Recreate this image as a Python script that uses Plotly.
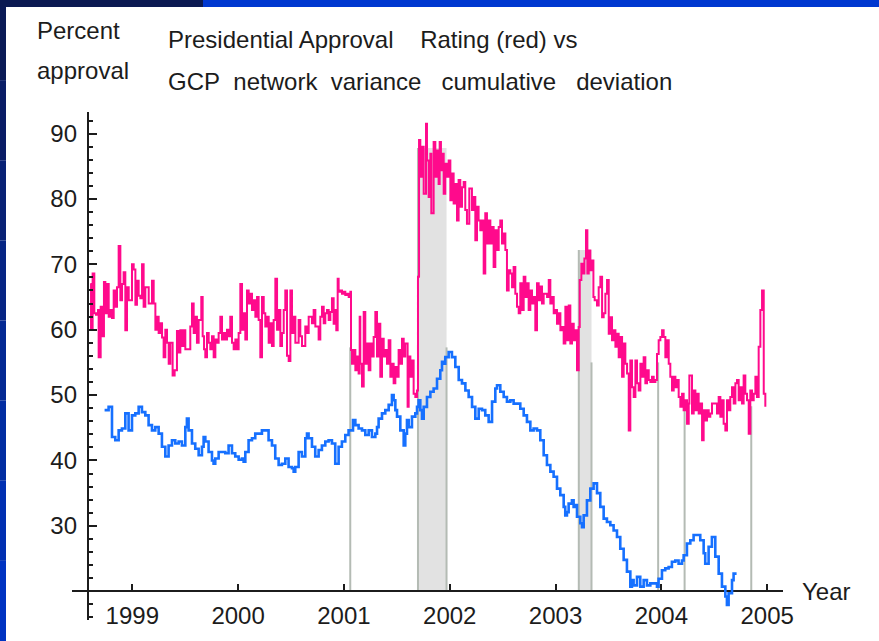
import plotly.graph_objects as go

# presidential approval (red), decimal year / percent
red_t = [
    1998.603, 1998.610, 1998.625, 1998.641, 1998.657, 1998.676, 1998.682, 1998.701, 1998.720, 1998.732,
    1998.745, 1998.761, 1998.777, 1998.792, 1998.808, 1998.824, 1998.840, 1998.855, 1998.871, 1998.887,
    1998.903, 1998.918, 1998.934, 1998.950, 1998.966, 1998.997, 1999.013, 1999.029, 1999.044, 1999.060,
    1999.076, 1999.092, 1999.107, 1999.123, 1999.155, 1999.186, 1999.202, 1999.218, 1999.233, 1999.249,
    1999.265, 1999.281, 1999.296, 1999.312, 1999.328, 1999.344, 1999.359, 1999.381, 1999.400, 1999.422,
    1999.438, 1999.454, 1999.470, 1999.485, 1999.501, 1999.533, 1999.548, 1999.564, 1999.580, 1999.596,
    1999.611, 1999.627, 1999.652, 1999.665, 1999.678, 1999.690, 1999.706, 1999.722, 1999.737, 1999.753,
    1999.769, 1999.785, 1999.800, 1999.816, 1999.832, 1999.848, 1999.863, 1999.879, 1999.895, 1999.911,
    1999.926, 1999.942, 1999.958, 1999.974, 1999.990, 2000.005, 2000.021, 2000.037, 2000.053, 2000.068,
    2000.084, 2000.100, 2000.116, 2000.131, 2000.147, 2000.163, 2000.179, 2000.194, 2000.210, 2000.226,
    2000.242, 2000.257, 2000.273, 2000.289, 2000.305, 2000.320, 2000.336, 2000.352, 2000.368, 2000.383,
    2000.399, 2000.415, 2000.431, 2000.446, 2000.462, 2000.478, 2000.494, 2000.509, 2000.525, 2000.541,
    2000.572, 2000.588, 2000.604, 2000.635, 2000.651, 2000.667, 2000.698, 2000.714, 2000.730, 2000.761,
    2000.777, 2000.793, 2000.809, 2000.824, 2000.840, 2000.856, 2000.872, 2000.887, 2000.903, 2000.919,
    2000.928, 2000.941, 2000.950, 2000.966, 2000.982, 2000.998, 2001.013, 2001.029, 2001.045, 2001.061,
    2001.067, 2001.076, 2001.092, 2001.108, 2001.124, 2001.139, 2001.149, 2001.155, 2001.171, 2001.187,
    2001.202, 2001.218, 2001.234, 2001.250, 2001.265, 2001.281, 2001.297, 2001.313, 2001.328, 2001.344,
    2001.360, 2001.376, 2001.391, 2001.407, 2001.423, 2001.439, 2001.454, 2001.470, 2001.486, 2001.502,
    2001.517, 2001.533, 2001.549, 2001.565, 2001.580, 2001.602, 2001.612, 2001.628, 2001.643, 2001.659,
    2001.675, 2001.691, 2001.700, 2001.710, 2001.722, 2001.738, 2001.754, 2001.776, 2001.785, 2001.801,
    2001.817, 2001.826, 2001.848, 2001.864, 2001.880, 2001.895, 2001.905, 2001.917, 2001.930, 2001.943,
    2001.958, 2001.974, 2001.990, 2002.006, 2002.021, 2002.037, 2002.053, 2002.069, 2002.084, 2002.100,
    2002.116, 2002.132, 2002.147, 2002.163, 2002.185, 2002.210, 2002.226, 2002.242, 2002.258, 2002.273,
    2002.289, 2002.305, 2002.321, 2002.336, 2002.352, 2002.368, 2002.384, 2002.400, 2002.415, 2002.431,
    2002.447, 2002.463, 2002.478, 2002.494, 2002.510, 2002.526, 2002.541, 2002.557, 2002.573, 2002.589,
    2002.604, 2002.620, 2002.636, 2002.652, 2002.667, 2002.683, 2002.699, 2002.715, 2002.730, 2002.746,
    2002.762, 2002.778, 2002.793, 2002.809, 2002.825, 2002.841, 2002.856, 2002.872, 2002.888, 2002.920,
    2002.936, 2002.951, 2002.967, 2002.983, 2002.999, 2003.014, 2003.030, 2003.046, 2003.062, 2003.077,
    2003.093, 2003.109, 2003.125, 2003.140, 2003.156, 2003.172, 2003.188, 2003.203, 2003.219, 2003.229,
    2003.244, 2003.257, 2003.273, 2003.288, 2003.301, 2003.314, 2003.329, 2003.345, 2003.358, 2003.370,
    2003.392, 2003.408, 2003.424, 2003.440, 2003.455, 2003.471, 2003.487, 2003.503, 2003.518, 2003.534,
    2003.550, 2003.566, 2003.581, 2003.597, 2003.613, 2003.629, 2003.644, 2003.660, 2003.676, 2003.692,
    2003.707, 2003.723, 2003.739, 2003.755, 2003.770, 2003.786, 2003.802, 2003.818, 2003.833, 2003.849,
    2003.865, 2003.881, 2003.896, 2003.912, 2003.928, 2003.944, 2003.959, 2003.975, 2003.991, 2004.007,
    2004.022, 2004.038, 2004.054, 2004.070, 2004.085, 2004.101, 2004.117, 2004.133, 2004.148, 2004.164,
    2004.180, 2004.196, 2004.211, 2004.227, 2004.243, 2004.259, 2004.265, 2004.290, 2004.306, 2004.322,
    2004.337, 2004.353, 2004.369, 2004.385, 2004.400, 2004.416, 2004.432, 2004.448, 2004.463, 2004.479,
    2004.511, 2004.526, 2004.542, 2004.558, 2004.574, 2004.589, 2004.605, 2004.621, 2004.637, 2004.652,
    2004.668, 2004.684, 2004.700, 2004.715, 2004.731, 2004.747, 2004.763, 2004.778, 2004.794, 2004.810,
    2004.826, 2004.841, 2004.857, 2004.873, 2004.889, 2004.904, 2004.920, 2004.936, 2004.952, 2004.968,
    2004.983,
]
red_v = [
    67.0, 60.0, 68.6, 62.5, 62.3, 63.0, 55.8, 63.5, 59.0, 67.3,
    62.5, 67.0, 62.0, 63.0, 61.8, 66.0, 63.5, 66.5, 72.8, 64.5,
    67.0, 68.8, 59.9, 66.5, 64.5, 70.0, 69.2, 63.8, 67.5, 65.2,
    64.8, 70.0, 63.5, 66.5, 64.0, 67.5, 64.0, 60.0, 62.0, 59.5,
    61.0, 58.8, 55.8, 60.0, 58.0, 54.8, 58.0, 53.0, 53.8, 59.8,
    56.5, 59.9, 57.5, 59.9, 57.0, 57.0, 60.5, 64.0, 59.5, 62.0,
    58.0, 61.5, 65.0, 59.0, 57.0, 55.8, 59.5, 58.0, 57.0, 59.0,
    55.8, 58.5, 58.0, 59.5, 62.0, 58.5, 59.5, 58.5, 60.0, 59.0,
    62.0, 58.0, 57.0, 58.5, 57.0, 59.5, 67.0, 60.0, 62.5, 58.5,
    66.0, 64.0, 65.5, 63.0, 64.5, 62.0, 65.0, 61.5, 55.8, 65.0,
    62.5, 60.5, 62.0, 58.0, 61.0, 57.5, 61.5, 67.8, 60.0, 63.0,
    57.5, 59.5, 63.0, 66.0, 56.0, 55.2, 66.0, 59.5, 62.0, 58.0,
    61.5, 59.0, 57.5, 60.5, 59.5, 62.0, 61.0, 63.0, 60.5, 58.5,
    62.0, 63.5, 61.0, 62.5, 63.0, 61.5, 62.7, 64.8, 60.9, 63.0,
    59.9, 67.8, 65.8, 66.0, 65.5, 65.8, 65.3, 65.5, 65.0, 65.8,
    56.9, 54.8, 56.9, 53.8, 55.9, 53.3, 62.0, 54.8, 51.3, 62.7,
    54.8, 57.9, 53.8, 57.9, 55.9, 58.9, 62.7, 55.9, 60.9, 52.8,
    58.6, 55.9, 56.9, 54.8, 58.4, 52.8, 54.8, 51.8, 54.3, 52.8,
    56.9, 54.8, 58.6, 55.9, 57.9, 48.2, 55.9, 52.8, 55.3, 50.2,
    49.7, 50.7, 68.1, 89.0, 83.4, 88.0, 80.8, 91.5, 85.9, 80.3,
    86.9, 77.8, 88.7, 83.4, 87.4, 82.3, 88.7, 84.4, 86.9, 80.8,
    85.4, 83.4, 85.9, 79.8, 83.9, 79.3, 82.3, 76.7, 82.9, 78.8,
    81.8, 82.6, 78.3, 76.2, 81.6, 78.3, 80.3, 73.7, 78.8, 76.7,
    75.2, 76.7, 68.6, 77.8, 73.2, 76.7, 73.2, 75.7, 69.6, 75.2,
    72.2, 75.7, 76.7, 73.2, 74.7, 72.2, 66.0, 69.1, 68.6, 66.5,
    69.6, 65.5, 63.5, 62.5, 67.1, 63.0, 68.1, 65.0, 67.1, 63.0,
    66.0, 64.0, 65.0, 59.9, 67.1, 64.5, 66.6, 64.0, 65.5, 65.0,
    67.6, 64.0, 65.0, 62.5, 63.0, 60.9, 62.5, 59.9, 60.4, 57.9,
    63.5, 58.4, 63.7, 57.9, 60.9, 58.4, 59.9, 53.8, 60.4, 67.6,
    70.1, 68.6, 70.9, 75.2, 68.6, 72.1, 69.1, 70.6, 65.0, 64.5,
    63.7, 66.5, 68.1, 61.9, 62.5, 65.5, 67.6, 59.4, 61.9, 58.4,
    59.9, 57.4, 59.4, 55.8, 58.9, 52.8, 57.9, 54.8, 53.3, 44.6,
    55.3, 51.2, 49.7, 55.3, 51.8, 50.7, 54.8, 52.8, 55.8, 51.8,
    53.8, 52.3, 52.0, 52.8, 52.0, 52.3, 56.3, 58.4, 58.9, 59.9,
    58.9, 55.8, 58.4, 54.8, 52.8, 50.7, 52.8, 51.2, 52.3, 49.7,
    48.2, 50.2, 47.7, 49.2, 45.6, 48.7, 53.0, 47.2, 50.7, 47.7,
    50.2, 47.2, 48.7, 43.1, 47.7, 46.1, 47.7, 46.7, 47.2, 48.7,
    48.7, 47.2, 49.7, 46.7, 49.2, 45.6, 44.6, 49.2, 47.7, 49.7,
    51.2, 48.7, 51.8, 52.3, 49.2, 51.2, 48.7, 53.0, 50.2, 49.2,
    44.1, 50.7, 49.2, 50.2, 52.8, 49.7, 57.4, 63.0, 66.0, 50.2,
    48.2,
]

# GCP network variance cumulative deviation (blue), scaled onto the same axis
blue_t = [
    1998.738, 1998.776, 1998.808, 1998.839, 1998.871, 1998.902, 1998.934, 1998.965, 1998.997, 1999.028,
    1999.060, 1999.091, 1999.123, 1999.154, 1999.186, 1999.217, 1999.249, 1999.280, 1999.312, 1999.343,
    1999.375, 1999.406, 1999.438, 1999.469, 1999.501, 1999.516, 1999.532, 1999.564, 1999.595, 1999.627,
    1999.658, 1999.674, 1999.690, 1999.721, 1999.753, 1999.768, 1999.784, 1999.816, 1999.847, 1999.879,
    1999.910, 1999.942, 1999.973, 2000.005, 2000.036, 2000.052, 2000.068, 2000.099, 2000.131, 2000.162,
    2000.194, 2000.225, 2000.257, 2000.288, 2000.320, 2000.351, 2000.383, 2000.414, 2000.446, 2000.477,
    2000.509, 2000.525, 2000.540, 2000.572, 2000.603, 2000.635, 2000.651, 2000.666, 2000.698, 2000.729,
    2000.761, 2000.792, 2000.824, 2000.855, 2000.887, 2000.918, 2000.950, 2000.981, 2001.013, 2001.044,
    2001.076, 2001.086, 2001.108, 2001.139, 2001.171, 2001.202, 2001.234, 2001.265, 2001.297, 2001.313,
    2001.328, 2001.360, 2001.391, 2001.423, 2001.454, 2001.470, 2001.486, 2001.502, 2001.533, 2001.565,
    2001.580, 2001.596, 2001.612, 2001.643, 2001.675, 2001.691, 2001.706, 2001.722, 2001.738, 2001.754,
    2001.785, 2001.817, 2001.848, 2001.880, 2001.911, 2001.927, 2001.943, 2001.958, 2001.990, 2002.021,
    2002.053, 2002.085, 2002.116, 2002.148, 2002.179, 2002.211, 2002.242, 2002.274, 2002.305, 2002.336,
    2002.368, 2002.400, 2002.431, 2002.447, 2002.478, 2002.510, 2002.541, 2002.573, 2002.604, 2002.636,
    2002.667, 2002.699, 2002.730, 2002.762, 2002.793, 2002.825, 2002.856, 2002.888, 2002.919, 2002.951,
    2002.982, 2003.014, 2003.045, 2003.077, 2003.092, 2003.108, 2003.124, 2003.155, 2003.171, 2003.187,
    2003.203, 2003.234, 2003.250, 2003.266, 2003.297, 2003.329, 2003.360, 2003.376, 2003.392, 2003.423,
    2003.455, 2003.486, 2003.518, 2003.549, 2003.581, 2003.612, 2003.644, 2003.675, 2003.707, 2003.722,
    2003.738, 2003.770, 2003.801, 2003.833, 2003.864, 2003.896, 2003.927, 2003.959, 2003.974, 2004.006,
    2004.037, 2004.069, 2004.100, 2004.132, 2004.163, 2004.195, 2004.211, 2004.242, 2004.274, 2004.305,
    2004.337, 2004.368, 2004.400, 2004.415, 2004.447, 2004.478, 2004.510, 2004.542, 2004.573, 2004.605,
    2004.620, 2004.636, 2004.668, 2004.683, 2004.699,
]
blue_v = [
    47.7, 48.2, 43.6, 43.1, 44.6, 44.9, 47.2, 44.6, 46.9, 47.2,
    48.2, 47.4, 46.9, 45.4, 44.6, 45.1, 44.1, 42.1, 40.6, 42.3,
    43.1, 42.6, 42.9, 42.3, 45.1, 46.4, 44.6, 42.6, 41.8, 40.8,
    42.1, 43.6, 42.9, 41.3, 40.0, 39.5, 40.3, 41.3, 41.3, 41.1,
    42.3, 41.1, 40.6, 40.1, 40.3, 39.8, 41.3, 43.1, 43.4, 44.1,
    44.1, 44.6, 44.6, 43.1, 42.3, 40.3, 39.3, 39.5, 40.3, 39.0,
    38.8, 38.3, 39.0, 41.3, 40.6, 43.4, 44.1, 43.4, 42.1, 40.6,
    41.6, 42.3, 42.9, 43.1, 42.6, 39.5, 42.1, 42.9, 43.9, 44.6,
    44.6, 46.2, 45.4, 44.9, 44.6, 43.9, 44.6, 43.6, 44.1, 45.1,
    46.4, 47.2, 47.7, 48.5, 50.0, 49.2, 47.7, 46.7, 44.6, 42.3,
    44.1, 46.2, 45.1, 46.7, 47.2, 48.2, 49.2, 47.7, 46.4, 48.2,
    49.7, 50.5, 51.0, 52.5, 53.8, 55.1, 54.8, 55.8, 56.6, 55.8,
    54.3, 52.3, 51.8, 50.7, 49.7, 48.2, 46.4, 47.9, 47.7, 46.9,
    45.9, 49.0, 51.0, 51.5, 50.5, 49.7, 49.0, 49.2, 48.7, 48.7,
    47.9, 46.9, 45.9, 44.6, 44.9, 44.6, 43.1, 40.8, 39.3, 38.3,
    37.5, 35.7, 34.7, 32.9, 31.6, 32.1, 33.4, 33.9, 32.9, 33.2,
    31.4, 30.4, 29.8, 31.6, 33.9, 35.7, 36.5, 36.5, 35.0, 32.9,
    31.1, 30.6, 30.1, 29.3, 28.3, 26.5, 24.8, 23.0, 20.7, 21.7,
    20.9, 22.2, 20.7, 21.7, 20.9, 21.2, 21.2, 20.7, 21.9, 23.2,
    23.5, 23.7, 24.5, 24.7, 24.2, 24.7, 25.5, 27.3, 27.8, 28.6,
    28.6, 27.8, 25.8, 24.2, 26.8, 28.3, 25.3, 22.7, 20.7, 19.2,
    17.9, 19.7, 21.7, 22.7, 22.5,
]

# shaded event windows and single event markers
band_start = [2001.70, 2003.22]
band_end = [2001.97, 2003.34]
band_top = [87.8, 72.2]
event_t = [2001.06, 2001.97, 2003.34, 2003.97, 2004.22, 2004.85]
event_top = [57.3, 57.3, 55.0, 55.0, 48.0, 48.3]

years = [1999, 2000, 2001, 2002, 2003, 2004, 2005]
pct_ticks = [30, 40, 50, 60, 70, 80, 90]
AXIS_Y = 20
AXIS_X = 1998.58

W, H = 879, 641
L, R, T, B = 72, 96, 112, 21
X_RANGE = [1998.43, 2005.15]
Y_RANGE = [15.6, 93.3]
PW, PH = W - L - R, H - T - B
FONT = "Liberation Sans, Arial, sans-serif"
INK = "#1c1c1c"
SP = "\u00a0"


def px_x(px):
    return (px - L) / PW


def px_y(py):
    return (H - B - py) / PH


fig = go.Figure()
fig.add_trace(go.Scatter(
    x=red_t, y=red_v, mode="lines", line={"color": "#ff0a8c", "width": 2, "shape": "hv"},
    hoverinfo="skip", showlegend=False,
))
fig.add_trace(go.Scatter(
    x=blue_t, y=blue_v, mode="lines", line={"color": "#1670ff", "width": 2.6, "shape": "hv"},
    hoverinfo="skip", showlegend=False,
))

shapes = []
for x0, x1, top in zip(band_start, band_end, band_top):
    shapes.append(dict(type="rect", xref="x", yref="y", x0=x0, x1=x1, y0=AXIS_Y, y1=top,
                       fillcolor="#e2e2e2", line={"width": 0}, layer="below"))
    shapes.append(dict(type="line", xref="x", yref="y", x0=x0, x1=x0, y0=AXIS_Y, y1=top,
                       line={"color": "#b4bbb4", "width": 2}, layer="below"))
for t, top in zip(event_t, event_top):
    shapes.append(dict(type="line", xref="x", yref="y", x0=t, x1=t, y0=AXIS_Y, y1=top,
                       line={"color": "#b4bbb4", "width": 2}, layer="below"))

# slide frame: dark strip down the left, two-tone strip across the top
left_cols = ["#0b1a56", "#0a1d66", "#082175", "#062584", "#042993", "#022da2", "#0130b2", "#0033c2"]
n = len(left_cols)
for i, c in enumerate(left_cols):
    shapes.append(dict(type="rect", xref="paper", yref="paper", x0=px_x(0), x1=px_x(6),
                       y0=px_y(H * (i + 1) / n), y1=px_y(H * i / n),
                       fillcolor=c, line={"width": 0}, layer="above"))
shapes.append(dict(type="rect", xref="paper", yref="paper", x0=px_x(0), x1=px_x(203),
                   y0=px_y(7), y1=px_y(0), fillcolor="#0b1a52", line={"width": 0}))
shapes.append(dict(type="rect", xref="paper", yref="paper", x0=px_x(203), x1=px_x(W),
                   y0=px_y(7), y1=px_y(0), fillcolor="#0038d0", line={"width": 0}))

texts = [
    ("Percent", 35, 30, 24),
    ("approval", 35, 71, 24),
    ("Presidential Approval" + SP * 4 + "Rating (red) vs", 166, 39, 24),
    ("GCP" + SP * 2 + "network" + SP * 2 + "variance" + SP * 3 + "cumulative" + SP * 3 + "deviation", 166, 81, 24),
    ("Year", 800, 591, 24),
]
annotations = [
    dict(text=s, xref="paper", yref="paper", x=px_x(x), y=px_y(y), xanchor="left", yanchor="middle",
         showarrow=False, font={"family": FONT, "size": size, "color": INK})
    for s, x, y, size in texts
]

fig.update_layout(
    width=W, height=H,
    margin={"l": L, "r": R, "t": T, "b": B, "autoexpand": False},
    paper_bgcolor="white", plot_bgcolor="white",
    shapes=shapes, annotations=annotations,
    xaxis=dict(
        range=X_RANGE, anchor="free",
        position=(AXIS_Y - Y_RANGE[0]) / (Y_RANGE[1] - Y_RANGE[0]),
        showgrid=False, zeroline=False, showline=True, linecolor=INK, linewidth=2,
        tickvals=years, ticktext=[str(y) for y in years],
        ticks="inside", ticklen=6, tickwidth=2, tickcolor=INK,
        tickfont={"family": FONT, "size": 24, "color": INK}, ticklabelstandoff=3,
        layer="below traces", automargin=False,
    ),
    yaxis=dict(
        range=Y_RANGE, anchor="free",
        position=(AXIS_X - X_RANGE[0]) / (X_RANGE[1] - X_RANGE[0]),
        showgrid=False, zeroline=False, showline=True, linecolor=INK, linewidth=2,
        tickvals=pct_ticks, ticks="inside", ticklen=8, tickwidth=2, tickcolor=INK,
        minor=dict(dtick=2, tick0=0, ticks="inside", ticklen=4, tickwidth=2, tickcolor=INK),
        tickfont={"family": FONT, "size": 24, "color": INK}, ticklabelstandoff=5,
        automargin=False,
    ),
)

# drop the default page margin so the figure sits at the window corner
fig.write_html("out.html", config={"displayModeBar": False},
               post_script="document.body.style.margin = '0px';")
